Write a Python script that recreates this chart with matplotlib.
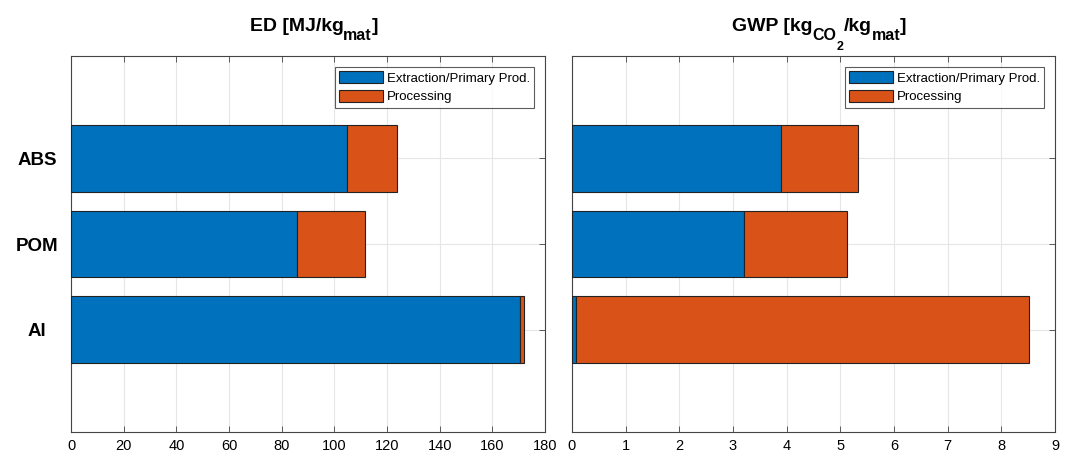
import matplotlib
matplotlib.use("Agg")
import matplotlib.pyplot as plt
import numpy as np

plt.rcParams["font.family"] = ["Liberation Sans", "DejaVu Sans"]

# datos (de abajo hacia arriba)
materials = ["Al", "POM", "ABS"]
ed_extraction = [170.5, 85.9, 104.7]
ed_processing = [1.7, 25.9, 19.1]
gwp_extraction = [0.07, 3.20, 3.89]
gwp_processing = [8.45, 1.93, 1.43]
legend_labels = ["Extraction/Primary Prod.", "Processing"]

C_BLUE = "#0072BD"
C_ORANGE = "#D95319"

fig = plt.figure(figsize=(10.73, 4.57), dpi=100)
W, H = 1073, 457
ax1 = fig.add_axes([71 / W, 1 - 432 / H, (545 - 71) / W, (432 - 56) / H])
ax2 = fig.add_axes([572 / W, 1 - 432 / H, (1055 - 572) / W, (432 - 56) / H])

y = np.arange(1, len(materials) + 1)


def title_parts(ax, parts, base_px=31):
    """Título estilo MATLAB con subíndices grandes: (texto, tamaño pt, bajada px)."""
    r = fig.canvas.get_renderer()
    texts = []
    for s, size, drop in parts:
        t = fig.text(0, 0, s, fontsize=size, fontweight="bold",
                     ha="left", va="baseline")
        texts.append((t, drop))
    widths = [t.get_window_extent(r).width for t, _ in texts]
    bb = ax.get_position()
    xc = (bb.x0 + bb.x1) / 2 * W + 6
    x = xc - sum(widths) / 2
    for (t, drop), w in zip(texts, widths):
        t.set_position((x / W, 1 - (base_px + drop) / H))
        x += w


def panel(ax, ext, proc, xmax, xticks, show_y):
    ax.barh(y, ext, height=0.78, color=C_BLUE, edgecolor="#222222",
            linewidth=0.8, label=legend_labels[0], zorder=3)
    ax.barh(y, proc, left=ext, height=0.78, color=C_ORANGE,
            edgecolor="#222222", linewidth=0.8, label=legend_labels[1], zorder=3)
    ax.set_xlim(0, xmax)
    ax.set_ylim(-0.19, 4.19)
    ax.set_xticks(xticks)
    ax.set_yticks(y)
    if show_y:
        ax.set_yticklabels(materials, fontsize=13.5, fontweight="bold")
        for lab in ax.get_yticklabels():
            lab.set_horizontalalignment("center")
    else:
        ax.set_yticklabels([])
    ax.tick_params(axis="both", direction="in", top=True, right=True,
                   length=4, width=0.6, color="#444444")
    ax.tick_params(axis="x", labelsize=10.5, pad=5)
    ax.tick_params(axis="y", pad=24.5)
    ax.grid(True, color="#e6e6e6", linewidth=0.8, zorder=0)
    ax.set_axisbelow(True)
    for s in ax.spines.values():
        s.set_color("#444444")
        s.set_linewidth(0.8)
    leg = ax.legend(loc="upper right", fontsize=9.5, frameon=True,
                    fancybox=False, edgecolor="#333333", handlelength=3.3,
                    handleheight=1.0, handletextpad=0.3, borderpad=0.35,
                    labelspacing=0.4, borderaxespad=0.8)
    leg.get_frame().set_linewidth(0.8)


panel(ax1, ed_extraction, ed_processing, 180, np.arange(0, 181, 20), True)
panel(ax2, gwp_extraction, gwp_processing, 9, np.arange(0, 10, 1), False)

title_parts(ax1, [("ED [MJ/kg", 14, 0), ("mat", 11.5, 9), ("]", 14, 0)])
title_parts(ax2, [("GWP [kg", 14, 0), ("CO", 11.5, 9), ("2", 9, 19),
                  ("/kg", 14, 0), ("mat", 11.5, 9), ("]", 14, 0)])

fig.savefig("out.png", dpi=100)
